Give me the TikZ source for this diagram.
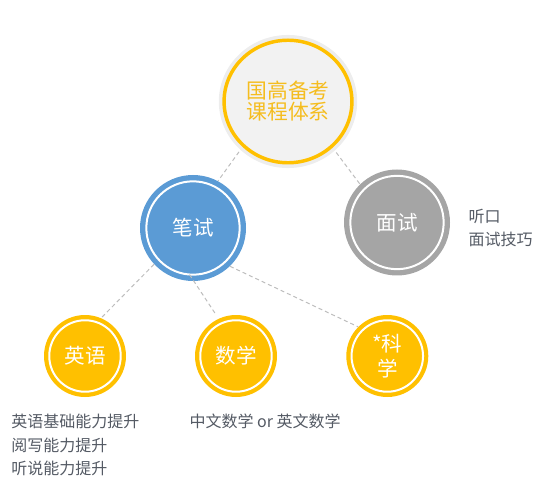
\documentclass[tikz,border=0pt]{standalone}
\usepackage{fontspec}
\setmainfont{Noto Sans CJK SC}
\usetikzlibrary{shapes.geometric}
\definecolor{gold}{HTML}{FFC000}
\definecolor{goldtext}{HTML}{F5BD1F}
\definecolor{blueA}{HTML}{5B9BD5}
\definecolor{grayA}{HTML}{A5A5A5}
\definecolor{lightfill}{HTML}{F2F2F2}
\definecolor{halo}{HTML}{EDEDED}
\definecolor{linegray}{HTML}{BDBDBD}
\definecolor{textgray}{HTML}{545A64}
\begin{document}
\begin{tikzpicture}[x=0.75pt,y=-0.75pt,
  innerring/.style={path picture={\draw[white,line width=1.5pt] (path picture bounding box.center) circle[radius=#1];}},
  bigcirc/.style={circle,inner sep=0pt,minimum size=79.5pt,innerring=35pt,text=white,font=\fontsize{15.4pt}{16pt}\selectfont},
  smallcirc/.style={circle,fill=gold,inner sep=0pt,minimum size=61.5pt,innerring=26.8pt,text=white,align=center,font=\fontsize{15.4pt}{18.75pt}\selectfont},
  conn/.style={draw=linegray,line width=0.75pt,dash pattern=on 3pt off 2.25pt},
  desc/.style={text=textgray,align=left,inner sep=0pt,anchor=west,font=\fontsize{12pt}{17.5pt}\selectfont}]
\useasboundingbox (0,0) rectangle (546,488);
\node[ellipse,fill=halo,minimum width=103.8pt,minimum height=99.8pt,inner sep=0pt] (tophalo) at (288,101.5) {};
\node[ellipse,draw=gold,line width=2.6pt,fill=lightfill,minimum width=95.9pt,minimum height=91.9pt,inner sep=0pt,text=goldtext,align=center,font=\fontsize{15.6pt}{15.8pt}\selectfont] (top) at (tophalo.center) {国高备考\\课程体系};
\node[bigcirc,fill=blueA] (bishi) at (193,228) {笔试};
\node[bigcirc,fill=grayA] (mianshi) at (397,222.5) {面试};
\node[smallcirc] (yingyu) at (85,356) {英语};
\node[smallcirc] (shuxue) at (236,356) {数学};
\node[smallcirc] (kexue) at (387.3,356) {*科\\学};
\draw[conn,shorten <=4.5pt] (top.-135) -- (bishi.62);
\draw[conn,shorten <=4.5pt] (top.-46) -- (mianshi.134);
\draw[conn] (bishi.223) -- (yingyu.67);
\draw[conn,shorten <=-6pt,shorten >=4pt] (bishi.-89) -- (shuxue.115);
\draw[conn] (bishi.-46) -- (kexue.135);
\node[desc] (mstext) at (468.3,228.3) {听口\\面试技巧};
\node[desc] (yytext) at (11,445) {英语基础能力提升\\阅写能力提升\\听说能力提升};
\node[desc] (sxtext) at (189.3,421.7) {中文数学 or 英文数学};
\end{tikzpicture}
\end{document}
